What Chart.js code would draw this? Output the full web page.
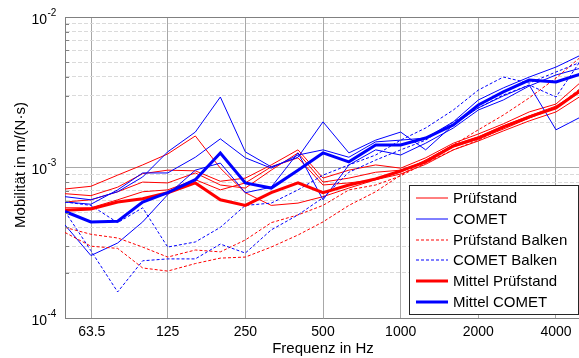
<!DOCTYPE html>
<html><head><meta charset="utf-8">
<script src="https://cdn.jsdelivr.net/npm/chart.js@4.4.0/dist/chart.umd.min.js"></script>
<style>
html,body{margin:0;padding:0;overflow:hidden;background:#fff;width:579px;height:358px}
#wrap{width:590px;height:358px;position:relative}
</style></head>
<body><div id="wrap"><canvas id="c" width="590" height="358"></canvas></div>
<script>
// ---- data (third-octave band centre frequencies, Hz) ----
const bands = [50,63,80,100,125,160,200,250,315,400,500,630,800,1000,1250,1600,2000,2500,3150,4000,5000];
const xTickValues = [63.5,125,250,500,1000,2000,4000];
const yMajorTicks = [1e-4,1e-3,1e-2];

const pruefstand1 = [7.2e-4,7.5e-4,8.9e-4,1.04e-3,1.23e-3,1.62e-3,9.9e-4,6.8e-4,5.6e-4,5.8e-4,6.4e-4,7.3e-4,8.3e-4,9.3e-4,1.12e-3,1.41e-3,1.60e-3,1.89e-3,2.20e-3,2.56e-3,3.27e-3];
const pruefstand2 = [6.7e-4,6.5e-4,7.4e-4,9.1e-4,9.6e-4,9.5e-4,8.1e-4,8.5e-4,1.04e-3,1.31e-3,8.5e-4,9.6e-4,1.04e-3,9.9e-4,1.16e-3,1.45e-3,1.67e-3,1.95e-3,2.34e-3,2.64e-3,3.70e-3];
const pruefstand3 = [5.9e-4,6.1e-4,6.9e-4,8.0e-4,7.9e-4,9.2e-4,7.65e-4,7.3e-4,9.6e-4,1.25e-3,8.0e-4,8.5e-4,9.3e-4,9.6e-4,1.10e-3,1.37e-3,1.55e-3,1.80e-3,2.13e-3,2.53e-3,3.18e-3];
const pruefstand4 = [5.4e-4,5.4e-4,6.1e-4,6.9e-4,7.1e-4,8.3e-4,7.1e-4,7.9e-4,1.01e-3,1.16e-3,7.65e-4,7.9e-4,8.3e-4,9.05e-4,1.05e-3,1.31e-3,1.50e-3,1.75e-3,2.04e-3,2.34e-3,2.99e-3];

const comet1 = [6.4e-4,6.1e-4,6.9e-4,8.65e-4,1.27e-3,1.72e-3,2.94e-3,1.27e-3,1.01e-3,1.17e-3,2.01e-3,1.25e-3,1.52e-3,1.72e-3,1.31e-3,1.92e-3,2.49e-3,2.99e-3,3.53e-3,1.78e-3,2.17e-3];
const comet2 = [5.9e-4,5.7e-4,7.1e-4,9.2e-4,9.2e-4,1.17e-3,1.55e-3,1.16e-3,9.9e-4,1.21e-3,1.31e-3,1.17e-3,1.48e-3,1.52e-3,1.57e-3,2.01e-3,2.81e-3,3.38e-3,3.99e-3,4.65e-3,5.59e-3];
const comet3 = [4.15e-4,2.6e-4,3.15e-4,4.35e-4,6.6e-4,9.6e-4,1.07e-3,6.8e-4,7.4e-4,1.25e-3,6.1e-4,1.04e-3,1.31e-3,1.21e-3,1.45e-3,1.83e-3,2.41e-3,2.81e-3,3.48e-3,4.12e-3,4.58e-3];

const pruefstandBalken1 = [4.0e-4,3.6e-4,3.4e-4,2.96e-4,2.54e-4,2.83e-4,2.75e-4,3.3e-4,4.3e-4,4.84e-4,5.6e-4,7.1e-4,7.65e-4,8.8e-4,1.07e-3,1.31e-3,1.52e-3,1.83e-3,2.13e-3,2.49e-3,3.38e-3];
const pruefstandBalken2 = [3.7e-4,3.0e-4,2.9e-4,2.15e-4,2.05e-4,2.3e-4,2.5e-4,2.54e-4,2.96e-4,3.56e-4,4.35e-4,5.6e-4,6.9e-4,8.9e-4,1.12e-3,1.41e-3,1.78e-3,2.23e-3,2.9e-3,3.93e-3,5.45e-3];

const cometBalken1 = [5.1e-4,2.8e-4,1.49e-4,2.4e-4,2.47e-4,2.47e-4,3.1e-4,2.7e-4,3.85e-4,4.84e-4,6.3e-4,9.3e-4,1.12e-3,1.31e-3,1.52e-3,2.01e-3,2.49e-3,3.03e-3,3.53e-3,2.94e-3,5.18e-3];
const cometBalken2 = [5.9e-4,5.6e-4,4.3e-4,5.4e-4,2.96e-4,3.2e-4,4.0e-4,5.6e-4,5.8e-4,7.1e-4,8.9e-4,1.04e-3,1.21e-3,1.52e-3,1.83e-3,2.41e-3,3.27e-3,3.99e-3,3.64e-3,4.31e-3,5.02e-3];

const mittelPruefstand = [5.2e-4,5.3e-4,5.9e-4,6.2e-4,6.8e-4,7.9e-4,6.1e-4,5.6e-4,6.8e-4,7.9e-4,6.8e-4,7.65e-4,8.4e-4,9.5e-4,1.09e-3,1.39e-3,1.57e-3,1.86e-3,2.17e-3,2.49e-3,3.27e-3];
const mittelComet = [5.1e-4,4.35e-4,4.4e-4,5.9e-4,6.8e-4,8.3e-4,1.25e-3,7.9e-4,7.3e-4,9.6e-4,1.25e-3,1.09e-3,1.41e-3,1.41e-3,1.57e-3,1.92e-3,2.6e-3,3.18e-3,3.81e-3,3.70e-3,4.18e-3];

// ---- styles ----
const RED = '#ff0000', BLUE = '#0000ff';
const DASH = [3,2];
const FONT = '"Liberation Sans", Arial, Helvetica, sans-serif';
const styles = {
  pS:  {borderColor: RED,  borderWidth: 1, borderDash: []},
  cS:  {borderColor: BLUE, borderWidth: 1, borderDash: []},
  pB:  {borderColor: RED,  borderWidth: 1, borderDash: DASH},
  cB:  {borderColor: BLUE, borderWidth: 1, borderDash: DASH},
  pM:  {borderColor: RED,  borderWidth: 3, borderDash: []},
  cM:  {borderColor: BLUE, borderWidth: 3, borderDash: []}
};
const legendEntries = [
  ['Prüfstand','pS'],['COMET','cS'],['Prüfstand Balken','pB'],
  ['COMET Balken','cB'],['Mittel Prüfstand','pM'],['Mittel COMET','cM']
];
const series = [
  [pruefstand1,'pS'],[pruefstand2,'pS'],[pruefstand3,'pS'],[pruefstand4,'pS'],
  [comet1,'cS'],[comet2,'cS'],[comet3,'cS'],
  [pruefstandBalken1,'pB'],[pruefstandBalken2,'pB'],
  [cometBalken1,'cB'],[cometBalken2,'cB'],
  [mittelPruefstand,'pM'],[mittelComet,'cM']
];
const datasets = series.map(([vals,key],i) => Object.assign({
  data: bands.map((f,j)=>({x:f, y:vals[j]})),
  pointRadius: 0, tension: 0, fill: false,
  order: 100 - i
}, styles[key]));

const isMajor = v => Math.abs(Math.log10(v) - Math.round(Math.log10(v))) < 1e-6;
const AXIS = '#808080', GRID = '#a8a8a8', MINOR = '#dadada';

const yTickList = [];
for (let e=-4; e<=-3; e++) for (let m=1; m<=9; m++) yTickList.push(m*Math.pow(10,e));
yTickList.push(1e-2);

const decor = {
  id: 'decor',
  afterDraw(chart) {
    const {ctx, chartArea: a, scales: {x, y}} = chart;
    ctx.save();
    ctx.strokeStyle = AXIS; ctx.lineWidth = 1;
    ctx.beginPath();
    ctx.moveTo(a.left, a.top + 0.5); ctx.lineTo(a.right, a.top + 0.5);
    yTickList.forEach(v => {
      if (isMajor(v)) return;
      const py = Math.round(y.getPixelForValue(v)) + 0.5;
      ctx.moveTo(a.left, py); ctx.lineTo(a.left + 4, py);
    });
    ctx.stroke();
    // y tick labels 10^n
    ctx.fillStyle = '#000';
    yMajorTicks.forEach(v => {
      const py = y.getPixelForValue(v);
      const e = Math.round(Math.log10(v));
      ctx.font = '14px ' + FONT; ctx.textAlign = 'right'; ctx.textBaseline = 'middle';
      ctx.fillText('10', 47, py + 3);
      ctx.font = '10px ' + FONT; ctx.textAlign = 'left';
      ctx.fillText(String(e), 47.5, py - 4);
    });
    // axis titles
    ctx.font = '15px ' + FONT; ctx.textAlign = 'center'; ctx.textBaseline = 'middle';
    ctx.fillText('Frequenz in Hz', (a.left + a.right) / 2, 349);
    ctx.save();
    ctx.translate(21, 165); ctx.rotate(-Math.PI/2);
    ctx.fillText('Mobilität in m/(N·s)', 0, 0);
    ctx.restore();
    // legend
    const L = 409.5, T = 185.5, R = 578.5, B = 314.5;
    ctx.fillStyle = '#fff'; ctx.fillRect(L, T, R - L, B - T);
    ctx.strokeStyle = '#262626'; ctx.lineWidth = 1; ctx.strokeRect(L, T, R - L, B - T);
    legendEntries.forEach(([label,key],i) => {
      const st = styles[key];
      const cy = Math.round(198 + i * 20.8);
      ctx.strokeStyle = st.borderColor; ctx.lineWidth = st.borderWidth;
      ctx.setLineDash(st.borderDash);
      ctx.beginPath(); ctx.moveTo(416, cy); ctx.lineTo(448, cy); ctx.stroke();
      ctx.setLineDash([]);
      ctx.fillStyle = '#000'; ctx.font = '15px ' + FONT; ctx.textAlign = 'left'; ctx.textBaseline = 'middle';
      ctx.fillText(label, 453, cy + 1);
    });
    ctx.restore();
  }
};

new Chart(document.getElementById('c'), {
  type: 'line',
  data: { datasets },
  options: {
    responsive: false, animation: false,
    layout: { padding: { left: 0, top: 17, right: 9, bottom: 0 } },
    plugins: { legend: { display: false }, tooltip: { enabled: false } },
    scales: {
      x: {
        type: 'logarithmic', min: 50, max: 5000,
        afterBuildTicks: s => { s.ticks = xTickValues.map(v => ({value: v})); },
        afterFit: s => { s.height = 40; },
        ticks: { autoSkip: false, maxRotation: 0, padding: 6, color: '#000',
                 font: { family: FONT, size: 14 }, callback: v => String(v) },
        grid: { color: GRID, lineWidth: 1, drawTicks: false },
        border: { color: AXIS, width: 1 }
      },
      y: {
        type: 'logarithmic', min: 1e-4, max: 1e-2,
        afterBuildTicks: s => { s.ticks = yTickList.map(v => ({value: v})); },
        afterFit: s => { s.width = 65; },
        ticks: { display: false },
        grid: { drawTicks: false, lineWidth: 1,
                color: c => (c.tick && !isMajor(c.tick.value)) ? MINOR : GRID },
        border: { color: AXIS, width: 1,
                  dash: c => (c.tick && !isMajor(c.tick.value)) ? [4,2] : [] }
      }
    }
  },
  plugins: [decor]
});
</script></body></html>
